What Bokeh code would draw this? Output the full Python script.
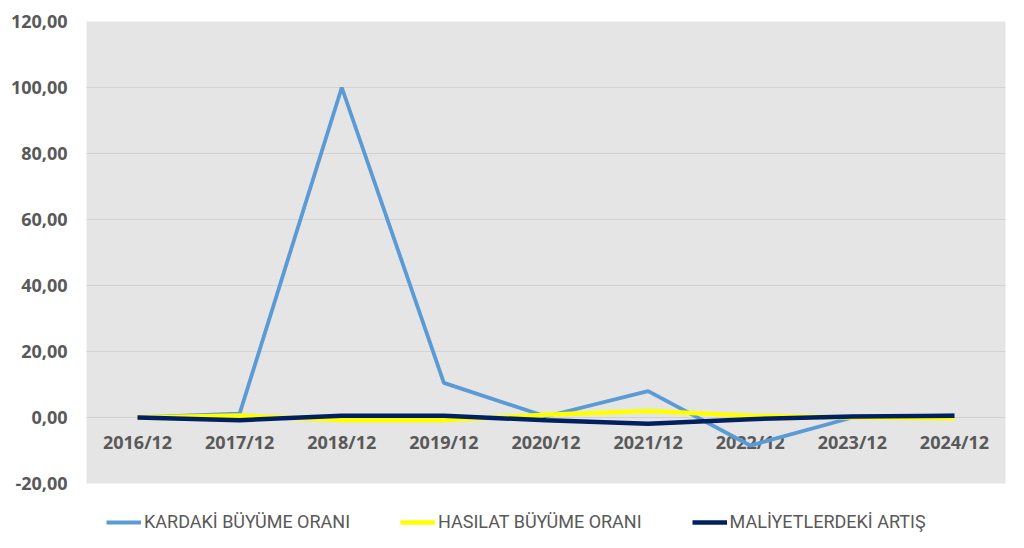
from bokeh.plotting import figure
from bokeh.layouts import column
from bokeh.models import FactorRange, Range1d, Legend, LegendItem, CustomJSTickFormatter, FixedTicker
from bokeh.core.properties import value
from bokeh.embed import file_html
from bokeh.resources import INLINE

categories = ["2016/12", "2017/12", "2018/12", "2019/12", "2020/12", "2021/12", "2022/12", "2023/12", "2024/12"]
kardaki = [0.0, 1.2, 100.0, 10.5, 0.3, 8.0, -8.5, 0.0, 0.6]
hasilat = [0.0, 0.6, -0.8, -0.8, 0.8, 2.0, 0.5, 0.0, -0.2]
maliyet = [0.0, -0.8, 0.5, 0.5, -0.8, -1.9, -0.5, 0.3, 0.5]
y_ticks = [-20, 0, 20, 40, 60, 80, 100, 120]

series_names = ["KARDAKİ BÜYÜME ORANI", "HASILAT BÜYÜME ORANI", "MALİYETLERDEKİ ARTIŞ"]
series_colors = ["#5B9BD5", "#FFFF00", "#002060"]
series_widths = [3.8, 4.5, 4.5]

label_color = "#595959"

p = figure(width=1008, height=495, x_range=FactorRange(*categories, range_padding=0),
           y_range=Range1d(-20, 120), output_backend="svg", toolbar_location=None,
           min_border_left=86, min_border_right=3, min_border_top=21, min_border_bottom=12)
p.background_fill_color = "#E5E5E5"
p.border_fill_color = "white"
p.outline_line_color = None
p.xgrid.grid_line_color = None
p.ygrid.grid_line_color = "#D2D2D2"
p.ygrid.grid_line_width = 1

p.yaxis.ticker = FixedTicker(ticks=y_ticks)
p.yaxis.formatter = CustomJSTickFormatter(code="return tick.toFixed(2).replace('.', ',');")
p.yaxis.axis_line_color = None
p.yaxis.major_tick_line_color = None
p.yaxis.minor_tick_line_color = None
p.yaxis.major_tick_out = 0
p.yaxis.minor_tick_out = 0
p.yaxis.major_label_standoff = 19
p.yaxis.major_label_text_font = "Open Sans"
p.yaxis.major_label_text_font_style = "bold"
p.yaxis.major_label_text_font_size = "18px"
p.yaxis.major_label_text_color = label_color

p.xaxis.visible = False

# category labels drawn along the zero line, as in the reference
p.text(x=categories, y=[0] * len(categories), text=categories, y_offset=12,
       text_align="center", text_baseline="top", text_font=value("Open Sans"),
       text_font_style="bold", text_font_size="18px", text_color=label_color)

p.line(categories, kardaki, line_color=series_colors[0], line_width=series_widths[0])
p.line(categories, hasilat, line_color=series_colors[1], line_width=series_widths[1])
p.line(categories, maliyet, line_color=series_colors[2], line_width=series_widths[2])

# legend strip below the chart
lg = figure(width=1008, height=37, x_range=Range1d(0, 1), y_range=Range1d(0, 1),
            output_backend="svg", toolbar_location=None,
            min_border_left=0, min_border_right=0, min_border_top=0, min_border_bottom=0)
lg.axis.visible = False
lg.grid.visible = False
lg.outline_line_color = None
lg.background_fill_color = "white"
items = []
for name, col, w in zip(series_names, series_colors, series_widths):
    # placeholder line outside the visible range, used only for the legend swatch
    r = lg.line([5, 6], [5, 6], line_color=col, line_width=w)
    items.append(LegendItem(label=name, renderers=[r]))

legend = Legend(items=items, orientation="horizontal", location=(20, 0),
                background_fill_alpha=0, border_line_color=None,
                label_text_font="Roboto", label_text_font_size="18px",
                label_text_color=label_color, glyph_width=35, glyph_height=20,
                label_standoff=3, spacing=50, padding=2, margin=0)
lg.add_layout(legend, "center")

layout = column(p, lg, spacing=0)
open("out.html", "w").write(file_html(layout, INLINE))
